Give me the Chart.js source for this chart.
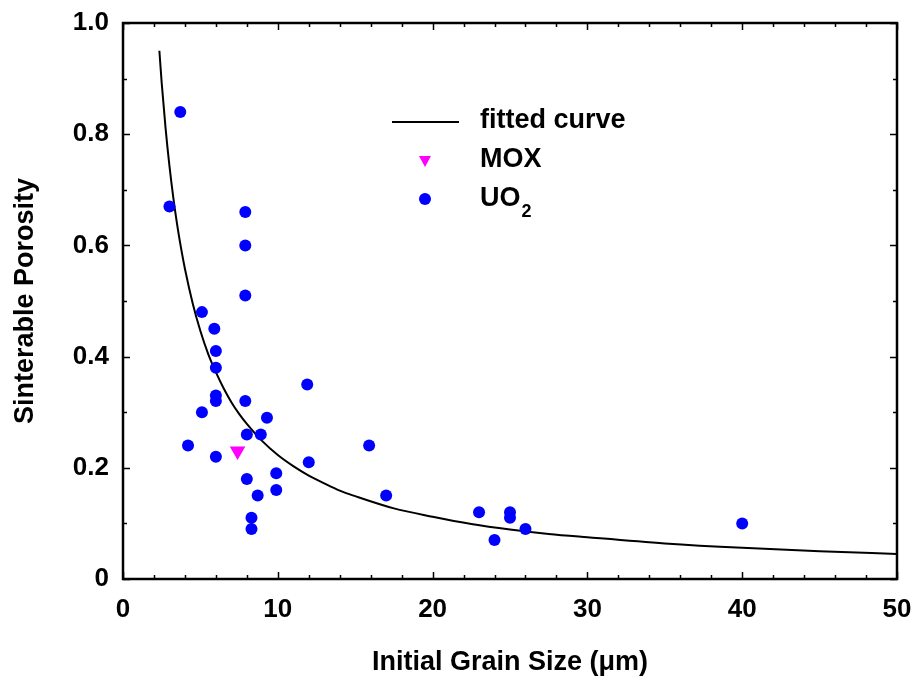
<!DOCTYPE html>
<html>
<head>
<meta charset="utf-8">
<script src="https://cdn.jsdelivr.net/npm/chart.js@4"></script>
<style>
  html, body { margin: 0; padding: 0; background: #fff; overflow: hidden; }
  #wrap { width: 916px; height: 679px; }
</style>
</head>
<body>
<div id="wrap"><canvas id="porosity"></canvas></div>
<script>
// UO2 measurements: initial grain size (um) vs sinterable porosity
const uo2Size = [3.7, 3.0, 7.9, 7.9, 7.9, 5.1, 5.9, 6.0, 6.0, 11.9, 6.0, 6.0, 7.9, 5.1, 9.3,
                 8.0, 8.9, 4.2, 15.9, 6.0, 12.0, 9.9, 8.0, 9.9, 8.7, 17.0, 8.3, 8.3,
                 23.0, 25.0, 25.0, 24.0, 26.0, 40.0];
const uo2Porosity = [0.84, 0.67, 0.66, 0.60, 0.51, 0.48, 0.45, 0.41, 0.38, 0.35, 0.33, 0.32, 0.32, 0.30, 0.29,
                     0.26, 0.26, 0.24, 0.24, 0.22, 0.21, 0.19, 0.18, 0.16, 0.15, 0.15, 0.11, 0.09,
                     0.12, 0.12, 0.11, 0.07, 0.09, 0.10];

// MOX
const moxSize = [7.4];
const moxPorosity = [0.23];

// fitted curve
const curveSize = [2.35, 2.5, 2.75, 3, 3.25, 3.5, 3.75, 4, 4.5, 5, 5.5, 6, 6.5, 7, 7.5, 8, 9, 10, 11, 12,
                   13, 14, 15, 17.5, 20, 22.5, 25, 27.5, 30, 35, 40, 45, 50];
const curvePorosity = [0.95, 0.892, 0.811, 0.743, 0.686, 0.637, 0.595, 0.558, 0.496, 0.446, 0.405, 0.372,
                       0.343, 0.318, 0.297, 0.279, 0.248, 0.223, 0.203, 0.186, 0.172, 0.159, 0.149,
                       0.127, 0.112, 0.099, 0.089, 0.081, 0.075, 0.064, 0.056, 0.05, 0.045];

const xTicks = [0, 10, 20, 30, 40, 50];
const yTicks = [0, 0.2, 0.4, 0.6, 0.8, 1.0];

const toPoints = (xs, ys) => xs.map((x, i) => ({ x: x, y: ys[i] }));

const FONT = 'Arial, "Liberation Sans", sans-serif';

// box around the plot + inward tick marks on all four sides
const frame = {
    id: 'frame',
    afterDraw(chart) {
        const { ctx, chartArea: a, scales: { x, y } } = chart;
        ctx.save();
        ctx.strokeStyle = '#000';
        ctx.lineWidth = 1.5;
        for (let v = 0; v <= 50; v += 2) {
            const px = Math.round(x.getPixelForValue(v)) + 0.5;
            const len = v % 10 === 0 ? 7 : 4;
            ctx.beginPath();
            ctx.moveTo(px, a.bottom); ctx.lineTo(px, a.bottom - len);
            ctx.moveTo(px, a.top); ctx.lineTo(px, a.top + len);
            ctx.stroke();
        }
        for (let k = 0; k <= 10; k++) {
            const py = Math.round(y.getPixelForValue(k / 10)) + 0.5;
            const len = k % 2 === 0 ? 7 : 4;
            ctx.beginPath();
            ctx.moveTo(a.left, py); ctx.lineTo(a.left + len, py);
            ctx.moveTo(a.right, py); ctx.lineTo(a.right - len, py);
            ctx.stroke();
        }
        ctx.lineWidth = 2.5;
        ctx.strokeRect(a.left, a.top, a.right - a.left, a.bottom - a.top);
        ctx.restore();
    }
};

// legend inside the plot, with the subscript in UO2
const insideLegend = {
    id: 'insideLegend',
    afterDraw(chart) {
        const ctx = chart.ctx;
        ctx.save();
        ctx.font = 'bold 27px ' + FONT;
        ctx.fillStyle = '#000';
        ctx.textBaseline = 'middle';
        ctx.textAlign = 'left';

        ctx.strokeStyle = '#000';
        ctx.lineWidth = 2;
        ctx.beginPath();
        ctx.moveTo(392, 122); ctx.lineTo(459, 122);
        ctx.stroke();
        ctx.fillText('fitted curve', 480, 121);

        ctx.fillStyle = '#ff00ff';
        ctx.beginPath();
        ctx.moveTo(419, 156); ctx.lineTo(431, 156); ctx.lineTo(425, 167);
        ctx.closePath();
        ctx.fill();
        ctx.fillStyle = '#000';
        ctx.fillText('MOX', 480, 160);

        ctx.fillStyle = '#0000ff';
        ctx.beginPath();
        ctx.arc(425, 199, 6, 0, Math.PI * 2);
        ctx.fill();
        ctx.fillStyle = '#000';
        ctx.fillText('UO', 480, 199);
        const w = ctx.measureText('UO').width;
        ctx.font = 'bold 18px ' + FONT;
        ctx.fillText('2', 480 + w + 1, 212);
        ctx.restore();
    }
};

new Chart(document.getElementById('porosity'), {
    type: 'scatter',
    data: {
        datasets: [
            {
                label: 'fitted curve',
                data: toPoints(curveSize, curvePorosity),
                showLine: true,
                borderColor: '#000',
                borderWidth: 2,
                pointRadius: 0,
                cubicInterpolationMode: 'monotone',
                order: 3
            },
            {
                label: 'MOX',
                data: toPoints(moxSize, moxPorosity),
                pointStyle: 'triangle',
                rotation: 180,
                pointRadius: 9,
                backgroundColor: '#ff00ff',
                borderColor: '#ff00ff',
                borderWidth: 0,
                order: 2
            },
            {
                label: 'UO2',
                data: toPoints(uo2Size, uo2Porosity),
                pointStyle: 'circle',
                pointRadius: 6,
                backgroundColor: '#0000ff',
                borderColor: '#0000ff',
                borderWidth: 0,
                order: 1
            }
        ]
    },
    options: {
        responsive: true,
        maintainAspectRatio: false,
        animation: false,
        events: [],
        layout: { padding: { top: 23, right: 19, left: 0, bottom: 0 } },
        plugins: {
            legend: { display: false },
            tooltip: { enabled: false }
        },
        scales: {
            x: {
                type: 'linear',
                min: 0,
                max: 50,
                afterBuildTicks: s => { s.ticks = xTicks.map(v => ({ value: v })); },
                afterFit: s => { s.height = 100; s.paddingLeft = 0; s.paddingRight = 0; },
                grid: { display: false, drawTicks: false },
                border: { display: false },
                ticks: {
                    color: '#000',
                    padding: 15,
                    font: { family: FONT, size: 26, weight: 'bold' },
                    maxRotation: 0
                },
                title: {
                    display: true,
                    text: 'Initial Grain Size (μm)',
                    color: '#000',
                    font: { family: FONT, size: 27, weight: 'bold' },
                    padding: { top: 0, bottom: 0 }
                }
            },
            y: {
                type: 'linear',
                min: 0,
                max: 1,
                afterBuildTicks: s => { s.ticks = yTicks.map(v => ({ value: v })); },
                afterFit: s => { s.width = 123; s.paddingTop = 0; s.paddingBottom = 0; },
                grid: { display: false, drawTicks: false },
                border: { display: false },
                ticks: {
                    color: '#000',
                    padding: 14,
                    font: { family: FONT, size: 26, weight: 'bold' },
                    callback: v => (v === 0 ? '0' : v.toFixed(1))
                },
                title: {
                    display: true,
                    text: 'Sinterable Porosity',
                    color: '#000',
                    font: { family: FONT, size: 27, weight: 'bold' },
                    padding: { top: 9, bottom: 0 }
                }
            }
        }
    },
    plugins: [frame, insideLegend]
});
</script>
</body>
</html>
